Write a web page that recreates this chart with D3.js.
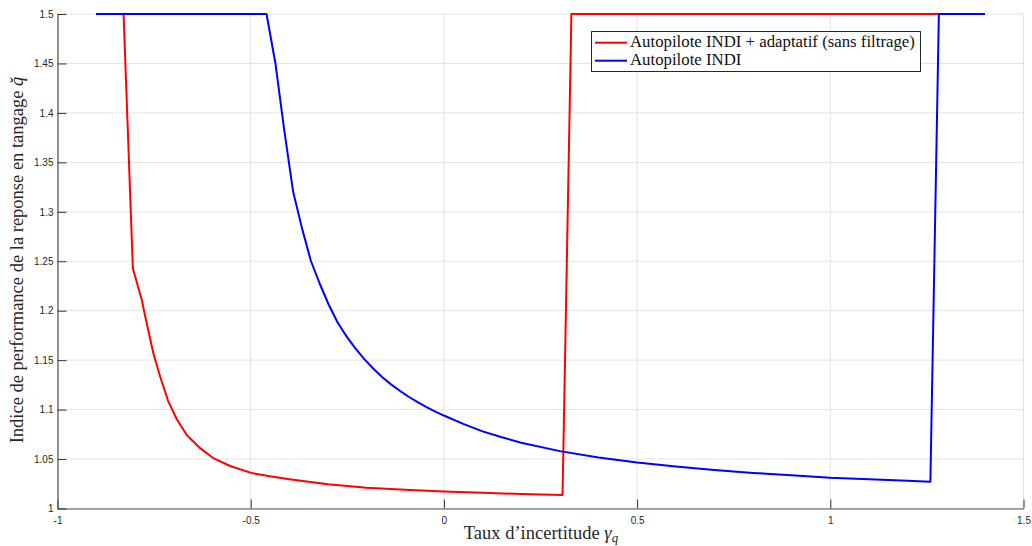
<!DOCTYPE html>
<html>
<head>
<meta charset="utf-8">
<script src="https://cdn.jsdelivr.net/npm/d3@7"></script>
<style>
  body { margin: 0; background: #fff; }
  svg { display: block; }
</style>
</head>
<body>
<svg id="chart" width="1032" height="546"></svg>
<script>
// ---- Data ----
const gammaRed = [-0.9, -0.829, -0.805, -0.782, -0.769, -0.752, -0.734, -0.713, -0.691, -0.665,
  -0.631, -0.597, -0.553, -0.499, -0.45, -0.4, -0.35, -0.3, -0.25, -0.2, -0.1, 0, 0.1, 0.2, 0.307, 0.330, 1.4];
const perfRed = [1.5, 1.5, 1.243, 1.211, 1.187, 1.157, 1.133, 1.108, 1.090, 1.074,
  1.061, 1.051, 1.043, 1.036, 1.0325, 1.0295, 1.027, 1.0245, 1.0227, 1.021, 1.019, 1.0173, 1.0158, 1.0147, 1.0136, 1.5, 1.5];

const gammaBlue = [-0.9, -0.459, -0.436, -0.413, -0.390, -0.367, -0.344, -0.321, -0.298, -0.275,
  -0.252, -0.229, -0.206, -0.183, -0.160, -0.137, -0.114, -0.091, -0.068, -0.045, -0.022, 0,
  0.05, 0.1, 0.15, 0.2, 0.3, 0.4, 0.5, 0.6, 0.7, 0.8, 0.9, 1.0, 1.1, 1.2, 1.259, 1.281, 1.4];
const perfBlue = [1.5, 1.5, 1.450, 1.382, 1.320, 1.283, 1.250, 1.227, 1.206, 1.188,
  1.174, 1.162, 1.151, 1.1415, 1.133, 1.1255, 1.119, 1.113, 1.1075, 1.1025, 1.098, 1.094,
  1.0855, 1.078, 1.072, 1.0665, 1.058, 1.0515, 1.0465, 1.0425, 1.039, 1.036, 1.0335, 1.031, 1.0295, 1.028, 1.027, 1.5, 1.5];

const seriesNames = ["Autopilote INDI + adaptatif (sans filtrage)", "Autopilote INDI"];
const seriesColors = ["#ff0000", "#0000ff"];

const xTicks = [-1, -0.5, 0, 0.5, 1, 1.5];
const xTickLabels = ["-1", "-0.5", "0", "0.5", "1", "1.5"];
const yTicks = [1, 1.05, 1.1, 1.15, 1.2, 1.25, 1.3, 1.35, 1.4, 1.45, 1.5];
const yTickLabels = ["1", "1.05", "1.1", "1.15", "1.2", "1.25", "1.3", "1.35", "1.4", "1.45", "1.5"];

// ---- Layout ----
const L = 57.5, R = 1023.5, T = 14, B = 508.5;
const svg = d3.select("#chart");
const x = d3.scaleLinear().domain([-1, 1.5]).range([L, R]);
const y = d3.scaleLinear().domain([1, 1.5]).range([B, T]);

// Grid
const grid = svg.append("g").attr("stroke", "#e3e3e3").attr("stroke-width", 1);
grid.selectAll("line.gx").data(xTicks).join("line")
  .attr("x1", d => x(d)).attr("x2", d => x(d)).attr("y1", T).attr("y2", B);
grid.selectAll("line.gy").data(yTicks).join("line")
  .attr("x1", L).attr("x2", R).attr("y1", d => y(d)).attr("y2", d => y(d));

// Series
const lineGen = d3.line().x(d => x(d[0])).y(d => y(d[1]));
const redPts = gammaRed.map((g, i) => [g, perfRed[i]]);
const bluePts = gammaBlue.map((g, i) => [g, perfBlue[i]]);
svg.append("path").datum(redPts).attr("d", lineGen)
  .attr("fill", "none").attr("stroke", seriesColors[0]).attr("stroke-width", 2).attr("stroke-linejoin", "round");
svg.append("path").datum(bluePts).attr("d", lineGen)
  .attr("fill", "none").attr("stroke", seriesColors[1]).attr("stroke-width", 2).attr("stroke-linejoin", "round");

// Axes
const axisColor = "#555";
const xAxis = svg.append("g").attr("transform", `translate(0,${B})`)
  .call(d3.axisBottom(x).tickValues(xTicks).tickFormat((d, i) => xTickLabels[i])
    .tickSizeInner(-9).tickSizeOuter(0).tickPadding(8));
const yAxis = svg.append("g").attr("transform", `translate(${L},0)`)
  .call(d3.axisLeft(y).tickValues(yTicks).tickFormat((d, i) => yTickLabels[i])
    .tickSizeInner(-9).tickSizeOuter(0).tickPadding(4));
[xAxis, yAxis].forEach(a => {
  a.select(".domain").attr("stroke", axisColor).attr("stroke-width", 1.2);
  a.selectAll(".tick line").attr("stroke", "#333").attr("stroke-width", 1);
  a.selectAll(".tick text").attr("fill", "#262626")
    .style("font-family", "'Liberation Sans', Arial, sans-serif").style("font-size", "10px");
});

// Axis labels
const serif = "'Liberation Serif', 'Times New Roman', serif";
const xl = svg.append("text").attr("x", 541).attr("y", 539)
  .attr("text-anchor", "middle").style("font-family", serif).style("font-size", "18.5px").attr("fill", "#262626");
xl.append("tspan").text("Taux d\u2019incertitude ");
xl.append("tspan").style("font-style", "italic").text("\u03B3");
xl.append("tspan").style("font-style", "italic").style("font-size", "13px").attr("dy", 3).text("q");

const yl = svg.append("text").attr("transform", "translate(23,260) rotate(-90)")
  .attr("text-anchor", "middle").style("font-family", serif).style("font-size", "18.5px").attr("fill", "#262626");
yl.append("tspan").text("Indice de performance de la reponse en tangage ");
yl.append("tspan").style("font-style", "italic").text("q\u030C");

// Legend
const leg = svg.append("g");
leg.append("rect").attr("x", 591.5).attr("y", 31.5).attr("width", 329).attr("height", 40)
  .attr("fill", "#fff").attr("stroke", "#262626").attr("stroke-width", 1);
seriesNames.forEach((name, i) => {
  const yy = 42.7 + i * 18;
  leg.append("line").attr("x1", 595).attr("x2", 627).attr("y1", yy).attr("y2", yy)
    .attr("stroke", seriesColors[i]).attr("stroke-width", 2);
  leg.append("text").attr("x", 630).attr("y", yy + 4.5).text(name)
    .style("font-family", serif).style("font-size", "16.8px").attr("fill", "#111");
});
</script>
</body>
</html>
